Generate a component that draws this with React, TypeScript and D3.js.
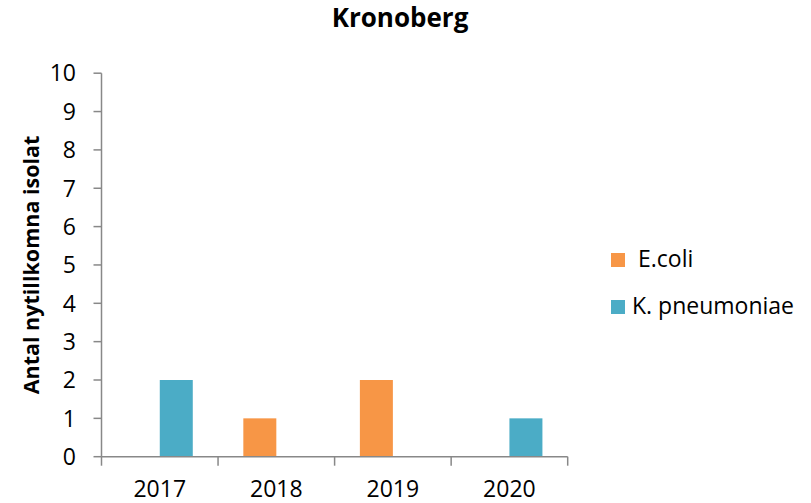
import React from "react";
import * as d3 from "d3";

const categories = ["2017", "2018", "2019", "2020"];
const seriesNames = [" E.coli", "K. pneumoniae"];
const ecoli = [0, 1, 2, 0];
const kpneumoniae = [2, 0, 0, 1];
const seriesValues = [ecoli, kpneumoniae];
const colors = ["#F79646", "#4BACC6"];
const yTicks = [0, 1, 2, 3, 4, 5, 6, 7, 8, 9, 10];
const title = "Kronoberg";
const yTitle = "Antal nytillkomna isolat";

const W = 811;
const H = 503;
const left = 101.5;
const right = 567.7;
const top = 73.2;
const bottom = 456.7;
const font = "'Open Sans', sans-serif";
const axisColor = "#888888";

export default function App() {
  const x = d3.scaleBand<string>().domain(categories).range([left, right]).paddingInner(0).paddingOuter(0);
  const inner = d3
    .scaleBand<number>()
    .domain(seriesNames.map((_, i) => i))
    .range([0, x.bandwidth()])
    .paddingOuter(0.766)
    .paddingInner(0);
  const y = d3.scaleLinear().domain([0, 10]).range([bottom, top]);
  const boundaries = [...categories.map((c) => x(c)!), right];

  return (
    <svg width={W} height={H} style={{ position: "absolute", left: 0, top: 0, background: "#fff" }}>
      <text x={400} y={27} textAnchor="middle" fontFamily={font} fontWeight="bold" fontSize={26} fill="#000">
        {title}
      </text>
      <text
        transform={`translate(39,${(top + bottom) / 2}) rotate(-90)`}
        textAnchor="middle"
        fontFamily={font}
        fontWeight="bold"
        fontSize={21.5}
        fill="#000"
      >
        {yTitle}
      </text>
      {/* bars */}
      {seriesValues.map((vals, si) =>
        vals.map((v, ci) =>
          v > 0 ? (
            <rect
              key={`${si}-${ci}`}
              x={x(categories[ci])! + inner(si)!}
              y={y(v)}
              width={inner.bandwidth()}
              height={y(0) - y(v)}
              fill={colors[si]}
            />
          ) : null
        )
      )}
      {/* y axis */}
      <line x1={left} x2={left} y1={top} y2={bottom} stroke={axisColor} strokeWidth={1.5} />
      {yTicks.map((t) => (
        <g key={t}>
          <line x1={left - 8} x2={left} y1={y(t)} y2={y(t)} stroke={axisColor} strokeWidth={1.5} />
          <text x={76} y={y(t)} dy="0.36em" textAnchor="end" fontFamily={font} fontSize={23} fill="#000">
            {t}
          </text>
        </g>
      ))}
      {/* x axis */}
      <line x1={left} x2={right} y1={bottom} y2={bottom} stroke={axisColor} strokeWidth={1.5} />
      {boundaries.map((b, i) => (
        <line key={i} x1={b} x2={b} y1={bottom} y2={bottom + 9} stroke={axisColor} strokeWidth={1.5} />
      ))}
      {categories.map((c) => (
        <text
          key={c}
          x={x(c)! + x.bandwidth() / 2}
          y={bottom + 40}
          textAnchor="middle"
          fontFamily={font}
          fontSize={23}
          fill="#000"
        >
          {c}
        </text>
      ))}
      {/* legend */}
      {seriesNames.map((n, i) => (
        <g key={n} transform={`translate(611,${253 + i * 47})`}>
          <rect x={0} y={0} width={14} height={14} fill={colors[i]} />
          <text x={21} y={14} fontFamily={font} fontSize={23} fill="#000" xmlSpace="preserve" style={{ whiteSpace: "pre" }}>
            {n}
          </text>
        </g>
      ))}
    </svg>
  );
}
